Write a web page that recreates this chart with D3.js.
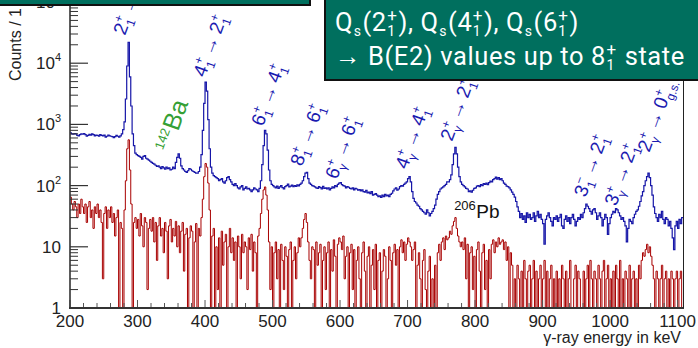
<!DOCTYPE html>
<html>
<head>
<meta charset="utf-8">
<script src="https://cdn.jsdelivr.net/npm/d3@7"></script>
<style>
  html, body { margin: 0; padding: 0; background: #fff; }
  svg { display: block; }
</style>
</head>
<body>
<svg id="chart" width="698" height="348"></svg>
<script>
// spectrum binning (keV)
const binLow = 200;
const binWidth = 2;

// upper spectrum (blue), counts per 2 keV bin, 200..1108 keV
const blueCounts = [
  730,700,690,710,700,660,650,680,700,690,
  710,680,640,660,690,670,700,680,650,670,
  660,640,680,660,650,670,620,640,670,650,
  640,630,610,630,660,640,620,650,700,820,
  1100,2600,9000,22000,6000,2000,700,450,340,320,
  310,300,290,270,300,310,280,270,260,250,
  240,230,225,215,205,210,200,190,205,195,
  185,200,190,195,180,185,200,190,240,290,
  330,280,210,190,180,170,165,175,190,185,
  175,170,165,160,160,170,200,320,800,2200,
  4900,3500,1200,400,200,160,145,140,135,130,
  120,125,130,115,110,120,135,140,125,115,
  105,100,108,100,92,88,95,100,85,90,
  95,88,90,85,80,85,92,88,85,80,
  90,120,220,450,800,700,380,180,120,105,
  100,95,92,98,90,95,100,93,88,96,
  100,106,95,98,102,96,100,97,103,99,
  105,110,120,140,160,165,130,110,105,100,
  98,95,92,90,96,93,88,97,90,92,
  88,92,85,90,95,92,100,96,105,110,
  112,104,100,98,92,96,94,90,88,92,
  85,90,88,84,86,82,85,80,78,84,
  76,78,74,80,70,72,74,70,66,68,
  64,70,66,72,68,70,66,72,75,82,
  88,92,84,88,96,100,98,105,110,115,
  130,140,115,80,62,55,52,48,46,42,
  40,38,36,34,40,36,32,35,38,42,
  48,60,72,80,88,92,95,100,105,115,
  115,125,150,220,330,420,330,200,140,115,
  105,100,95,90,88,80,82,78,84,90,
  92,98,100,96,104,100,108,105,110,104,
  112,118,115,125,130,138,128,135,125,130,
  120,110,105,98,96,92,85,78,72,65,
  55,45,38,30,35,28,32,25,36,30,
  34,28,30,36,26,32,38,30,34,28,
  24,11,28,32,36,30,26,22,30,28,
  32,26,30,34,22,20,28,32,26,30,
  24,30,34,28,22,26,30,28,34,30,
  36,42,50,46,42,38,34,40,42,36,
  28,32,36,30,22,28,34,30,16,24,
  30,34,38,36,42,40,36,32,28,30,
  26,22,12,20,28,26,24,30,34,38,
  40,46,55,68,80,100,120,140,160,135,
  100,70,45,35,30,26,34,30,38,28,
  24,30,28,22,26,20,14,9,22,26,
  20,28,24,30
];

// lower spectrum (red), counts per 2 keV bin, 200..1108 keV
const redCounts = [
  65,50,40,55,45,30,50,35,60,45,
  35,50,25,45,55,30,40,20,45,35,
  50,30,40,25,3,35,45,20,40,30,
  45,25,35,15,30,40,0,25,20,0,
  40,120,400,560,180,50,0,25,30,20,
  28,15,35,22,10,30,25,2,20,28,
  18,30,12,25,6,22,30,15,20,8,
  25,18,3,22,28,12,20,15,26,10,
  22,8,18,25,4,16,20,0,14,22,
  18,0,12,24,0,20,15,30,60,140,
  230,200,110,40,0,15,20,0,10,2,
  14,0,18,5,12,16,0,10,20,8,
  14,6,12,0,15,10,3,16,8,12,
  10,2,14,9,16,4,12,8,0,15,
  20,35,60,85,95,70,40,12,2,10,
  0,8,12,3,9,0,11,6,2,10,
  7,0,9,12,0,6,10,3,8,14,
  10,14,20,28,35,25,12,6,3,10,
  9,0,12,5,8,11,0,6,10,2,
  8,12,0,9,4,13,7,0,11,14,
  12,9,15,3,7,10,0,8,11,2,
  9,0,6,10,3,0,8,12,4,0,
  7,10,0,5,9,2,11,0,6,8,
  0,4,9,7,0,3,10,6,0,8,
  11,5,9,0,10,13,8,12,6,11,
  14,12,10,6,9,12,0,5,8,3,
  0,6,9,2,0,4,7,0,3,0,
  5,0,8,11,6,12,14,9,15,13,
  14,18,16,22,26,30,20,15,12,10,
  12,9,14,3,11,0,8,10,2,7,
  0,9,12,4,0,8,11,2,6,0,
  9,3,11,13,8,12,10,14,11,12,
  13,9,12,6,10,0,8,5,0,3,
  0,5,3,0,4,0,6,3,0,4,
  5,0,3,6,0,4,0,3,5,0,
  3,6,0,4,0,3,5,0,3,0,
  4,0,3,0,5,3,0,4,0,3,
  6,0,0,3,5,0,4,3,0,0,
  4,0,3,5,0,6,3,0,4,3,
  0,5,3,0,4,6,0,3,5,0,
  3,0,4,0,5,3,0,6,0,3,
  0,4,3,0,5,0,3,4,0,3,
  0,5,3,6,8,7,9,11,8,10,
  7,5,3,0,4,3,0,3,5,0,
  3,4,0,3,0,4,3,0,3,4,
  0,3,4,0
];

const xTicks = [200, 300, 400, 500, 600, 700, 800, 900, 1000, 1100];
const yTicks = [1, 10, 100, 1000, 10000, 100000];
const yTickLabels = [["1", ""], ["10", ""], ["10", "2"], ["10", "3"], ["10", "4"], ["10", "5"]];

// transition labels: [main, subscript, superscript] pieces, anchored at (keV, counts)
const arrow = "\u2009\u2192\u2009";
const transitions = [
  { E: 281.5, c: 27800, parts: [["2", "1", "+"], [arrow], ["0", "g.s.", "+"]] },
  { E: 400,   c: 5730,  parts: [["4", "1", "+"], [arrow], ["2", "1", "+"]] },
  { E: 486,   c: 907,   parts: [["6", "1", "+"], [arrow], ["4", "1", "+"]] },
  { E: 543.7, c: 201,   parts: [["8", "1", "+"], [arrow], ["6", "1", "+"]] },
  { E: 595.6, c: 124,   parts: [["6", "\u03b3", "+"], [arrow], ["6", "1", "+"]] },
  { E: 699,   c: 180,   parts: [["4", "\u03b3", "+"], [arrow], ["4", "1", "+"]] },
  { E: 766,   c: 516,   parts: [["2", "\u03b3", "+"], [arrow], ["2", "1", "+"]] },
  { E: 964,   c: 63,    parts: [["3", "1", "\u2212"], [arrow], ["2", "1", "+"]] },
  { E: 1009,  c: 45,    parts: [["3", "\u03b3", "+"], [arrow], ["2", "1", "+"]] },
  { E: 1058,  c: 341,   parts: [["2", "\u03b3", "+"], [arrow], ["0", "g.s.", "+"]] }
];
const baLabel = { E: 360, c: 751, mass: "142", el: "Ba" };
const pbLabel = { E: 769, c: 29.6, mass: "206", el: "Pb" };

const boxLine1 = [["Q", "s", ""], ["("], ["2", "1", "+"], ["),\u00a0"], ["Q", "s", ""], ["("], ["4", "1", "+"], ["),\u00a0"], ["Q", "s", ""], ["("], ["6", "1", "+"], [")"]];
const boxLine2 = [["\u2192\u00a0B(E2) values up to\u00a0"], ["8", "1", "+"], ["\u00a0state"]];

const svg = d3.select("#chart");
const plotFont = "'Liberation Sans', Arial, sans-serif";

const x = d3.scaleLinear().domain([200, 1108]).range([70, 683]);
const y = d3.scaleLog().domain([1, 1e5]).range([308, 2]);

svg.append("clipPath").attr("id", "plotclip")
  .append("rect").attr("x", 70).attr("y", -50).attr("width", 613).attr("height", 358);

function histo(counts) {
  const pts = counts.map((v, i) => [binLow + i * binWidth, v]);
  pts.push([binLow + counts.length * binWidth, counts[counts.length - 1]]);
  return pts;
}
const line = d3.line()
  .x(d => x(d[0]))
  .y(d => y(Math.max(d[1], 0.3)))
  .curve(d3.curveStepAfter);

const plot = svg.append("g").attr("clip-path", "url(#plotclip)");
plot.append("path").datum(histo(blueCounts))
  .attr("d", line).attr("fill", "none")
  .attr("stroke", "#1616a8").attr("stroke-width", 1.2);
plot.append("path").datum(histo(redCounts))
  .attr("d", line).attr("fill", "none")
  .attr("stroke", "#a80000").attr("stroke-width", 1);

// axes
const minorX = d3.range(200, 1108, 20).filter(v => v % 100 !== 0);
svg.append("g").selectAll("line").data(minorX).join("line")
  .attr("x1", d => x(d)).attr("x2", d => x(d))
  .attr("y1", 308).attr("y2", 303)
  .attr("stroke", "#555").attr("stroke-width", 1);
svg.append("g").selectAll("line").data(xTicks).join("line")
  .attr("x1", d => x(d)).attr("x2", d => x(d))
  .attr("y1", 308).attr("y2", 300)
  .attr("stroke", "#555").attr("stroke-width", 1);
svg.append("g").selectAll("text").data(xTicks).join("text")
  .attr("x", d => x(d)).attr("y", 327)
  .attr("text-anchor", "middle")
  .style("font", `17px ${plotFont}`).attr("fill", "#222")
  .text(d => d);

const minorY = [];
[1, 10, 100, 1000, 10000].forEach(dec => {
  for (let k = 2; k <= 9; k++) minorY.push(dec * k);
});
svg.append("g").selectAll("line").data(minorY).join("line")
  .attr("x1", 70).attr("x2", 78)
  .attr("y1", d => y(d)).attr("y2", d => y(d))
  .attr("stroke", "#333").attr("stroke-width", 1);
svg.append("g").selectAll("line").data(yTicks).join("line")
  .attr("x1", 70).attr("x2", 88)
  .attr("y1", d => y(d)).attr("y2", d => y(d))
  .attr("stroke", "#333").attr("stroke-width", 1.2);
const ylab = svg.append("g").selectAll("text").data(yTicks).join("text")
  .attr("x", 61).attr("y", d => y(d) + 6)
  .attr("text-anchor", "end")
  .style("font", `17px ${plotFont}`).attr("fill", "#222");
ylab.append("tspan").text((d, i) => yTickLabels[i][0]);
ylab.append("tspan").attr("dy", -8).style("font-size", "11px").text((d, i) => yTickLabels[i][1]);

svg.append("line").attr("x1", 70).attr("x2", 70).attr("y1", -5).attr("y2", 309)
  .attr("stroke", "#333").attr("stroke-width", 1.6);
svg.append("line").attr("x1", 69).attr("x2", 684).attr("y1", 308).attr("y2", 308)
  .attr("stroke", "#333").attr("stroke-width", 2);
svg.append("line").attr("x1", 683.5).attr("x2", 683.5).attr("y1", -5).attr("y2", 308)
  .attr("stroke", "#222").attr("stroke-width", 1);

svg.append("text")
  .attr("transform", "translate(21,81) rotate(-90)")
  .style("font", `16px ${plotFont}`).attr("fill", "#222")
  .text("Counts / 1 keV");
svg.append("text")
  .attr("x", 681).attr("y", 343).attr("text-anchor", "end")
  .style("font", `16px ${plotFont}`).attr("fill", "#222")
  .text("\u03b3-ray energy in keV");

// text with stacked sub/superscripts
function richText(g, parts, o) {
  let cx = 0;
  parts.forEach(p => {
    const t = g.append("text").attr("x", cx).attr("y", 0)
      .style("font-size", o.fs + "px").text(p[0]);
    cx += t.node().getComputedTextLength();
    if (p.length > 1) {
      let w = 0;
      if (p[2]) {
        const s = g.append("text").attr("x", cx + 0.5).attr("y", o.supDy)
          .style("font-size", o.small + "px").text(p[2]);
        w = Math.max(w, s.node().getComputedTextLength());
      }
      if (p[1]) {
        const s = g.append("text").attr("x", cx + 0.5).attr("y", o.subDy)
          .style("font-size", (o.subSize || o.small) + "px").text(p[1]);
        w = Math.max(w, s.node().getComputedTextLength());
      }
      cx += w + 1.5;
    }
  });
  return cx;
}

const ann = svg.append("g")
  .style("font-family", plotFont).attr("fill", "#1a1ab0");
transitions.forEach(t => {
  const g = ann.append("g")
    .attr("transform", `translate(${x(t.E)},${y(t.c)}) rotate(-70)`);
  richText(g, t.parts, { fs: 19, small: 12, supDy: -8, subDy: 5 });
});

const ba = svg.append("g")
  .attr("transform", `translate(${x(baLabel.E)},${y(baLabel.c)}) rotate(-70)`)
  .style("font-family", plotFont).attr("fill", "#35a035");
ba.append("text").attr("x", -1).attr("y", -8).attr("text-anchor", "end")
  .style("font-size", "13px").text(baLabel.mass);
ba.append("text").attr("x", 0).attr("y", 0).style("font-size", "25px").text(baLabel.el);

const pb = svg.append("g")
  .attr("transform", `translate(${x(pbLabel.E)},${y(pbLabel.c)})`)
  .style("font-family", plotFont).attr("fill", "#111");
const massT = pb.append("text").attr("x", 0).attr("y", -8)
  .style("font-size", "13px").text(pbLabel.mass);
pb.append("text").attr("x", massT.node().getComputedTextLength() + 0.5).attr("y", 0)
  .style("font-size", "19px").text(pbLabel.el);

// overlay boxes
svg.append("rect").attr("x", -3).attr("y", -20).attr("width", 313).attr("height", 25)
  .attr("fill", "#006f5e").attr("stroke", "#111").attr("stroke-width", 2);
svg.append("rect").attr("x", 325).attr("y", -20).attr("width", 380).attr("height", 100)
  .attr("fill", "#006f5e").attr("stroke", "#111").attr("stroke-width", 2);

const boxFont = "Roboto, 'Noto Sans', sans-serif";
const l1 = svg.append("g").attr("transform", "translate(335,31)")
  .style("font-family", boxFont).style("letter-spacing", "0.6px").attr("fill", "#fff");
richText(l1, boxLine1, { fs: 25.5, small: 17, subSize: 14, supDy: -10, subDy: 5 });
const l2 = svg.append("g").attr("transform", "translate(335,65)")
  .style("font-family", boxFont).style("letter-spacing", "0.6px").attr("fill", "#fff");
richText(l2, boxLine2, { fs: 25.5, small: 17, subSize: 14, supDy: -10, subDy: 5 });
</script>
</body>
</html>
